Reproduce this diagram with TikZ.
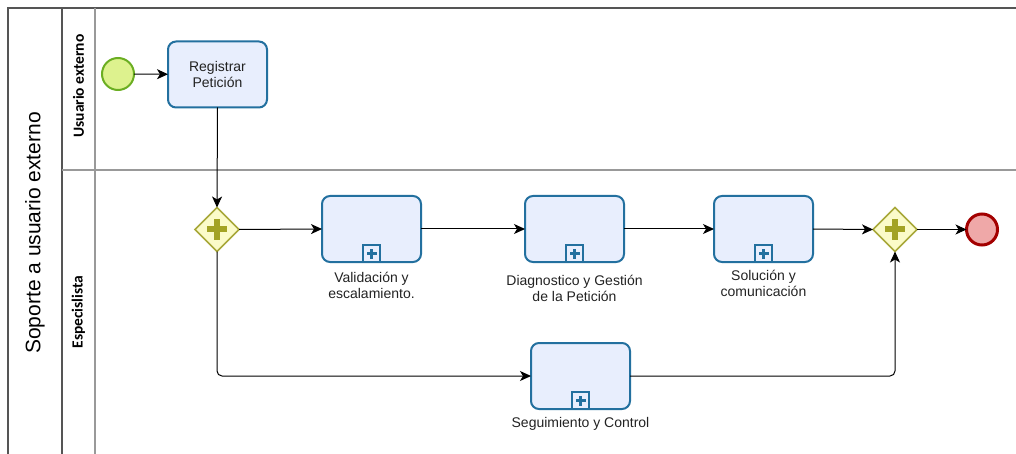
\documentclass[tikz,border=0pt]{standalone}
\usepackage{fontspec}
\setmainfont{Liberation Sans}
\newfontfamily\lanefont{Carlito}
\usetikzlibrary{shapes.geometric,arrows.meta}

\definecolor{taskline}{HTML}{23709F}
\definecolor{taskfill}{HTML}{E8EEFD}
\definecolor{gwline}{HTML}{A8A83A}
\definecolor{gwfill}{HTML}{FBFBC9}
\definecolor{gwmark}{HTML}{A3A324}
\definecolor{startline}{HTML}{6BAE22}
\definecolor{startfill}{HTML}{DDF28E}
\definecolor{endline}{HTML}{A30000}
\definecolor{endfill}{HTML}{EFA8A8}
\definecolor{poolline}{HTML}{555555}
\definecolor{laneline}{HTML}{999999}
\definecolor{txt}{HTML}{222222}

\tikzset{
  task/.style={draw=taskline, fill=taskfill, line width=2pt, rounded corners=8pt,
    minimum width=99pt, minimum height=66pt, inner sep=0pt, outer sep=0pt,
    font=\fontsize{14}{16.5}\selectfont, text=txt, align=center},
  gateway/.style={diamond, draw=gwline, fill=gwfill, line width=1.6pt,
    minimum width=44pt, minimum height=44pt, inner sep=0pt, outer sep=0pt},
  startev/.style={circle, draw=startline, fill=startfill, line width=2pt,
    minimum size=32pt, inner sep=0pt, outer sep=0pt},
  endev/.style={circle, draw=endline, fill=endfill, line width=3pt,
    minimum size=31pt, inner sep=0pt, outer sep=0pt},
  tasklabel/.style={font=\fontsize{14}{16.5}\selectfont, text=txt, align=center},
  flow/.style={draw=black, line width=1pt, -{Stealth[length=11pt,width=10pt,inset=3pt]}},
  lanetitle/.style={font=\lanefont\bfseries\fontsize{15.5}{18}\selectfont, rotate=90},
  pooltitle/.style={font=\fontsize{21}{24}\selectfont, rotate=90}
}

% collapsed sub-process marker at the bottom of a task
\newcommand{\submarker}[1]{%
  \draw[taskline, line width=1.5pt, fill=taskfill]
    ([xshift=-8.5pt]#1.south) rectangle ([xshift=8.5pt,yshift=17pt]#1.south);
  \fill[taskline] ([xshift=-5pt,yshift=7pt]#1.south) rectangle ([xshift=5pt,yshift=10.5pt]#1.south);
  \fill[taskline] ([xshift=-1.75pt,yshift=3.5pt]#1.south) rectangle ([xshift=1.75pt,yshift=13.5pt]#1.south);
}

% parallel gateway plus sign
\newcommand{\plusmark}[1]{%
  \fill[gwmark] ([xshift=-10pt,yshift=-3pt]#1.center) rectangle ([xshift=10pt,yshift=3pt]#1.center);
  \fill[gwmark] ([xshift=-3pt,yshift=-10pt]#1.center) rectangle ([xshift=3pt,yshift=10pt]#1.center);
}

\begin{document}
\begin{tikzpicture}[x=1pt, y=-1pt]
\useasboundingbox (0,0) rectangle (1016,454);

% pool and lanes
\draw[poolline, line width=1.6pt] (1016,8) -- (8,8) -- (8,454);
\draw[poolline, line width=1.6pt] (62,8) -- (62,454);
\draw[laneline, line width=1.6pt] (95,8) -- (95,454);
\draw[laneline, line width=1.6pt] (62,170) -- (1016,170);

\node[pooltitle] (pool) at (35,233) {Soporte a usuario externo};
\node[lanetitle] (lane1) at (78.5,86) {Usuario externo};
\node[lanetitle] (lane2) at (78.5,312) {Especislista};

% flow elements
\node[startev] (start) at (118,74) {};
\node[task] (reg) at (217.5,74.5) {Registrar\\Petición};

\node[gateway] (g1) at (217,229.5) {};
\node[task] (val) at (371.5,229) {};
\node[task] (diag) at (574.5,229) {};
\node[task] (sol) at (763.5,229) {};
\node[gateway] (g2) at (895,229.5) {};
\node[endev] (end) at (982,229.5) {};
\node[task] (seg) at (580.5,376) {};

\plusmark{g1}
\plusmark{g2}
\submarker{val}
\submarker{diag}
\submarker{sol}
\submarker{seg}

% labels under the sub-processes
\node[tasklabel] (valL) at (371.5,285.5) {Validación y\\escalamiento.};
\node[tasklabel] (diagL) at (574.5,288.5) {Diagnostico y Gestión\\de la Petición};
\node[tasklabel] (solL) at (763.5,283.5) {Solución y\\comunicación};
\node[tasklabel] (segL) at (580.5,424) {Seguimiento y Control};

% sequence flows
\draw[flow] (start) -- (reg);
\draw[flow] (reg.south) -- (g1.north);
\draw[flow] (g1.east) -- (val.west);
\draw[flow] (val.east) -- (diag.west);
\draw[flow] (diag.east) -- (sol.west);
\draw[flow] (sol.east) -- (g2.west);
\draw[flow] (g2.east) -- (end.west);
\draw[flow, rounded corners=5pt] (g1.south) |- (seg.west);
\draw[flow, rounded corners=5pt] (seg.east) -| (g2.south);
\end{tikzpicture}
\end{document}
